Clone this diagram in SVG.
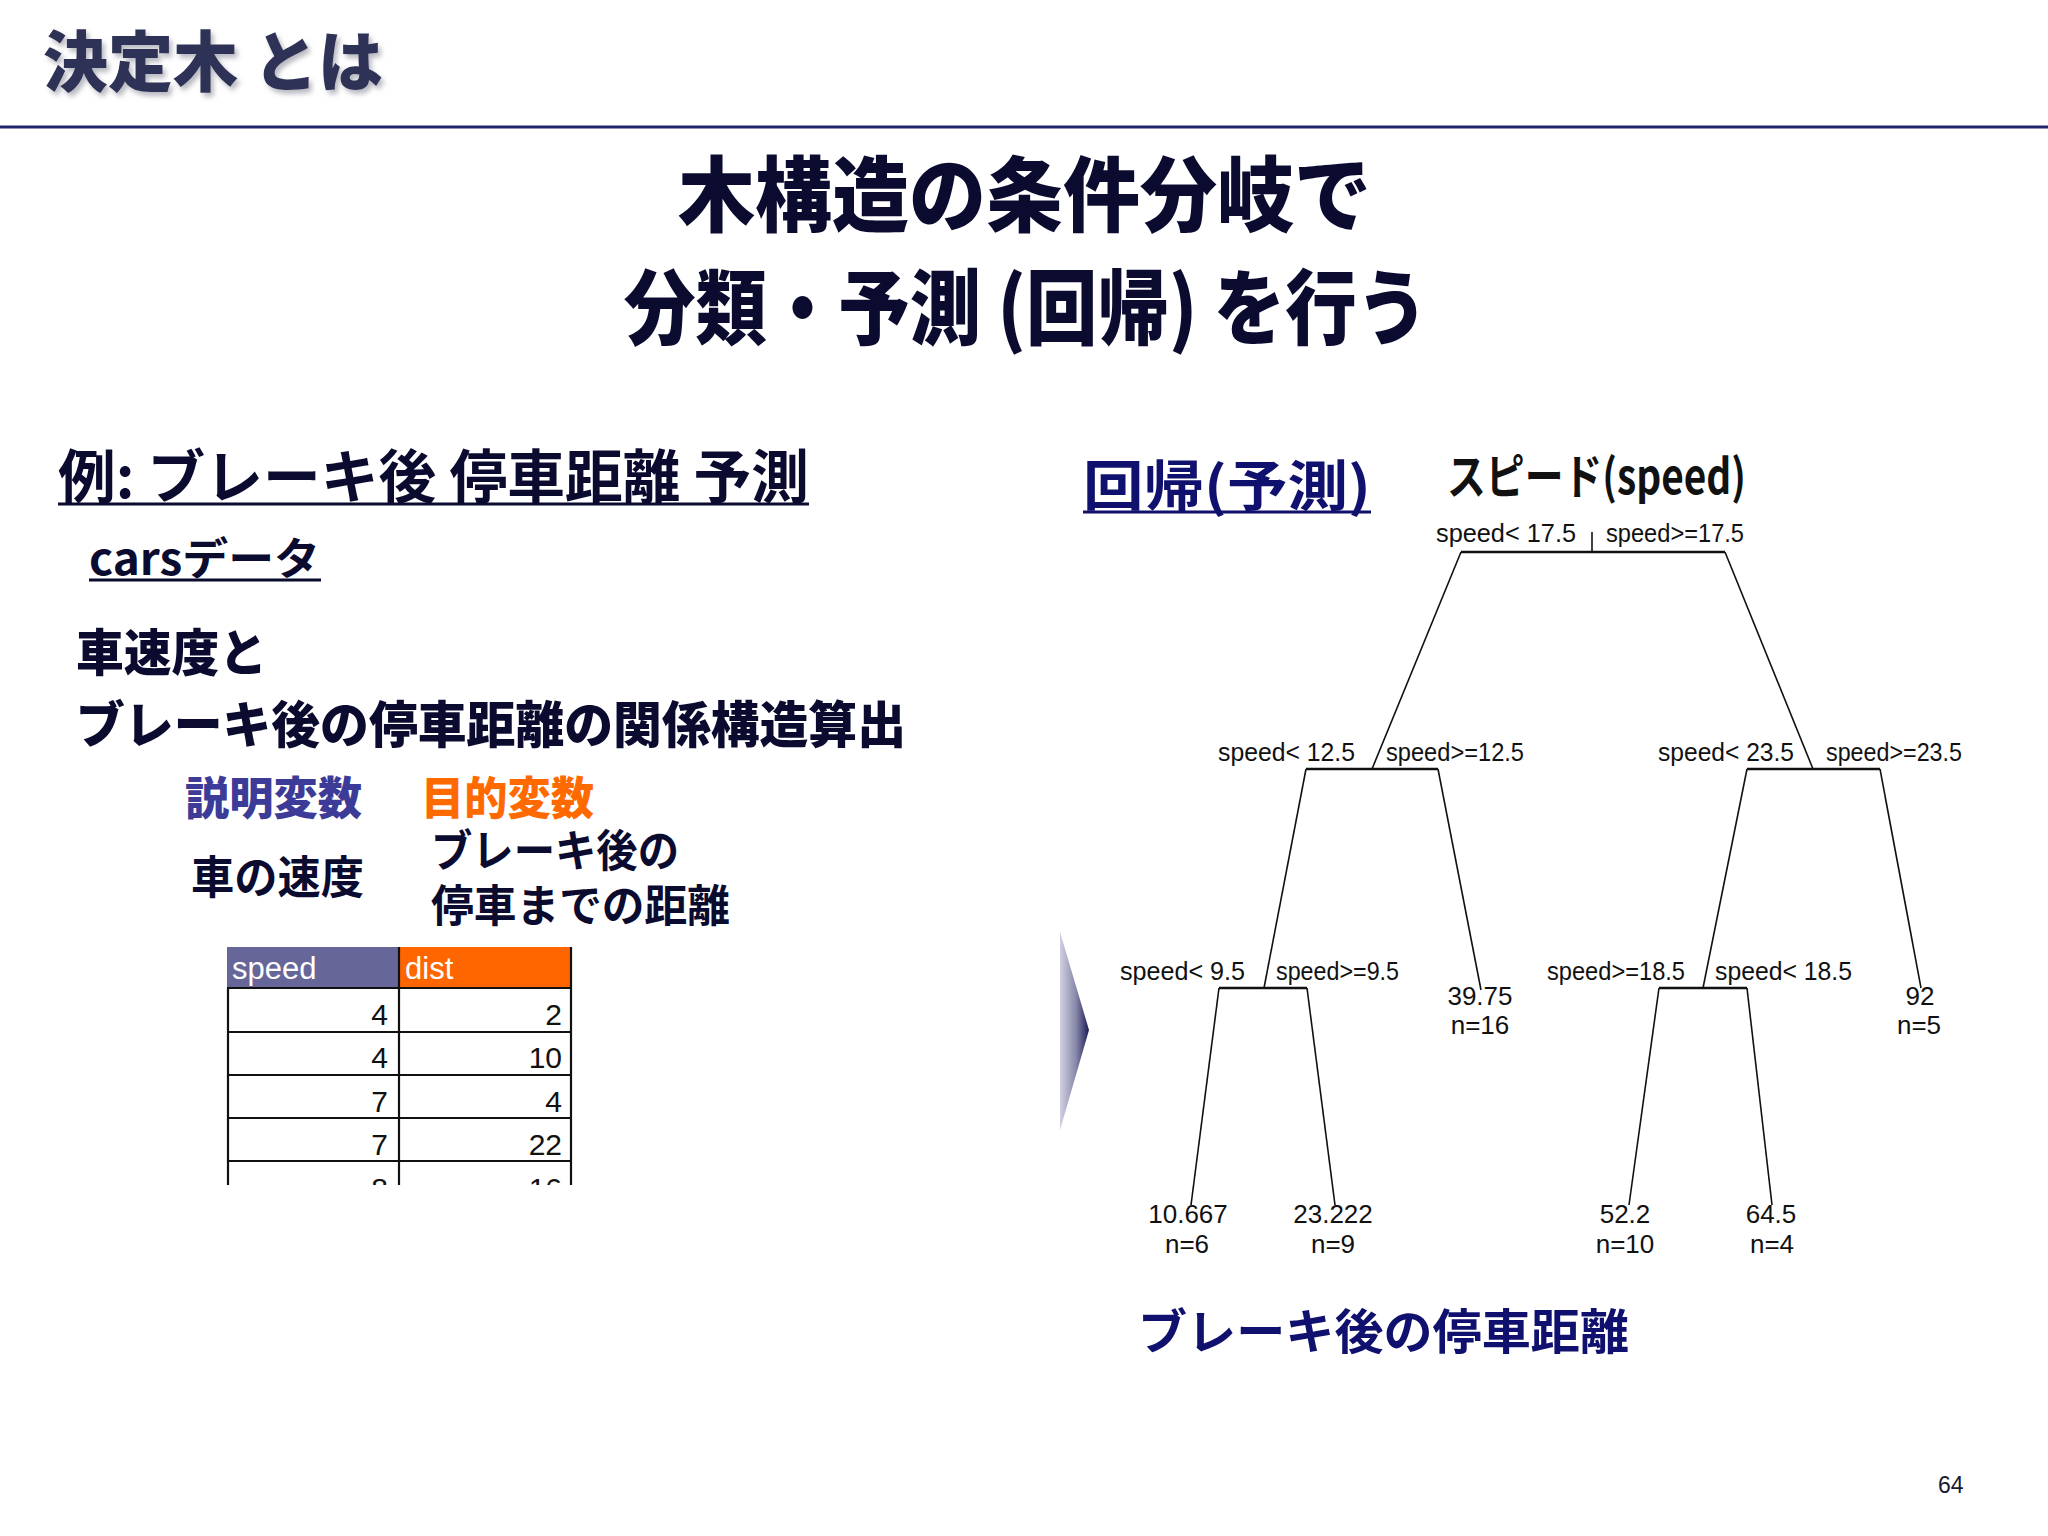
<svg xmlns="http://www.w3.org/2000/svg" width="2048" height="1536" viewBox="0 0 2048 1536">
<defs>
<style>
.jp{font-family:"Noto Sans CJK JP","Noto Sans CJK SC",sans-serif}
.heavy{font-weight:900}
.bold{font-weight:700}
.dark{fill:#0b0b30}
.navy{fill:#10106e}
.lbl{font-family:"Liberation Sans",Arial,sans-serif;font-size:26px;fill:#111}
.mid{text-anchor:middle}
.edge{stroke:#111;stroke-width:1.6;fill:none}
.bar{stroke:#111;stroke-width:2.4;fill:none}
.num{font-family:"Liberation Sans",Arial,sans-serif;font-size:30px;fill:#111;text-anchor:end}
.grid{stroke:#111;stroke-width:2.2}
.ul{stroke-width:3}
</style>
<filter id="shadow" x="-10%" y="-20%" width="130%" height="160%">
<feDropShadow dx="3" dy="4" stdDeviation="2.5" flood-color="#8a8a9a" flood-opacity="0.6"/>
</filter>
<linearGradient id="tri" x1="0" y1="0" x2="1" y2="0">
<stop offset="0" stop-color="#d0d0e2"/>
<stop offset="0.55" stop-color="#8888aa"/>
<stop offset="1" stop-color="#1c1c58"/>
</linearGradient>
<clipPath id="tblclip"><rect x="220" y="940" width="360" height="245"/></clipPath>
</defs>
<rect width="2048" height="1536" fill="#ffffff"/>

<g id="title">
<text class="jp heavy" x="43" y="86" font-size="66" fill="#2e3257" textLength="340" lengthAdjust="spacingAndGlyphs" filter="url(#shadow)">決定木 とは</text>
<line x1="0" y1="127" x2="2048" y2="127" stroke="#23236e" stroke-width="3"/>
</g>

<g id="heading">
<text class="jp heavy dark" x="678" y="225" font-size="82" textLength="693" lengthAdjust="spacingAndGlyphs">木構造の条件分岐で</text>
<text class="jp heavy dark" x="624" y="338" font-size="82" textLength="804" lengthAdjust="spacingAndGlyphs">分類・予測 (回帰) を行う</text>
</g>

<g id="example">
<text class="jp bold dark" x="58" y="498" font-size="58" textLength="751" lengthAdjust="spacingAndGlyphs">例: ブレーキ後 停車距離 予測</text>
<line class="ul" x1="58" y1="504" x2="809" y2="504" stroke="#0b0b30"/>
<text class="jp bold dark" x="89" y="575" font-size="44" textLength="231" lengthAdjust="spacingAndGlyphs">carsデータ</text>
<line class="ul" x1="89" y1="580" x2="321" y2="580" stroke="#0b0b30"/>
<text class="jp heavy dark" x="76" y="671" font-size="50" textLength="191" lengthAdjust="spacingAndGlyphs">車速度と</text>
<text class="jp heavy dark" x="76" y="743" font-size="50" textLength="830" lengthAdjust="spacingAndGlyphs">ブレーキ後の停車距離の関係構造算出</text>
<text class="jp heavy" x="185" y="815" font-size="45" fill="#3c3c98" textLength="177" lengthAdjust="spacingAndGlyphs">説明変数</text>
<text class="jp heavy" x="421" y="815" font-size="45" fill="#ff6a00" textLength="173" lengthAdjust="spacingAndGlyphs">目的変数</text>
<text class="jp bold dark" x="191" y="894" font-size="45" textLength="173" lengthAdjust="spacingAndGlyphs">車の速度</text>
<text class="jp bold dark" x="431" y="867" font-size="44" textLength="248" lengthAdjust="spacingAndGlyphs">ブレーキ後の</text>
<text class="jp bold dark" x="431" y="922" font-size="44" textLength="299" lengthAdjust="spacingAndGlyphs">停車までの距離</text>
</g>

<g id="table" clip-path="url(#tblclip)">
<rect x="227" y="947" width="172" height="41" fill="#666699"/>
<rect x="399" y="947" width="172" height="41" fill="#ff6600"/>
<text x="232" y="979" font-family="Liberation Sans,Arial,sans-serif" font-size="31" fill="#ffffff">speed</text>
<text x="405" y="979" font-family="Liberation Sans,Arial,sans-serif" font-size="31" fill="#ffffff">dist</text>
<line class="grid" x1="227" y1="988" x2="571" y2="988"/>
<line class="grid" x1="227" y1="1032" x2="571" y2="1032"/>
<line class="grid" x1="227" y1="1075" x2="571" y2="1075"/>
<line class="grid" x1="227" y1="1118" x2="571" y2="1118"/>
<line class="grid" x1="227" y1="1161" x2="571" y2="1161"/>
<line class="grid" x1="228" y1="988" x2="228" y2="1190"/>
<line class="grid" x1="399" y1="947" x2="399" y2="1190"/>
<line class="grid" x1="571" y1="947" x2="571" y2="1190"/>
<text class="num" x="388" y="1025">4</text><text class="num" x="562" y="1025">2</text>
<text class="num" x="388" y="1068">4</text><text class="num" x="562" y="1068">10</text>
<text class="num" x="388" y="1112">7</text><text class="num" x="562" y="1112">4</text>
<text class="num" x="388" y="1155">7</text><text class="num" x="562" y="1155">22</text>
<text class="num" x="388" y="1199">8</text><text class="num" x="562" y="1199">16</text>
</g>

<g id="arrow">
<polygon points="1060,932 1089,1030 1060,1130" fill="url(#tri)"/>
</g>

<g id="right-header">
<text class="jp bold navy" x="1083" y="506" font-size="54" textLength="288" lengthAdjust="spacingAndGlyphs">回帰(予測)</text>
<line class="ul" x1="1083" y1="512" x2="1371" y2="512" stroke="#10106e"/>
<text class="jp bold" x="1447" y="494" font-size="48" fill="#111" textLength="299" lengthAdjust="spacingAndGlyphs">スピード(speed)</text>
</g>

<g id="connectors">
<line class="edge" x1="1592" y1="532" x2="1592" y2="552"/>
<line class="edge" x1="1461" y1="552" x2="1372" y2="769"/>
<line class="edge" x1="1725" y1="552" x2="1813" y2="769"/>
<line class="edge" x1="1306" y1="769" x2="1264" y2="988"/>
<line class="edge" x1="1438" y1="769" x2="1481" y2="990"/>
<line class="edge" x1="1747" y1="769" x2="1703" y2="988"/>
<line class="edge" x1="1880" y1="769" x2="1921" y2="988"/>
<line class="edge" x1="1219" y1="988" x2="1191" y2="1205"/>
<line class="edge" x1="1307" y1="988" x2="1335" y2="1205"/>
<line class="edge" x1="1659" y1="988" x2="1629" y2="1205"/>
<line class="edge" x1="1747" y1="988" x2="1772" y2="1205"/>
</g>

<g id="node-root">
<line class="bar" x1="1461" y1="552" x2="1725" y2="552"/>
<text class="lbl" x="1436" y="542" textLength="140" lengthAdjust="spacingAndGlyphs">speed&lt; 17.5</text>
<text class="lbl" x="1606" y="542" textLength="138" lengthAdjust="spacingAndGlyphs">speed&gt;=17.5</text>
</g>
<g id="node-l2-left">
<line class="bar" x1="1306" y1="769" x2="1438" y2="769"/>
<text class="lbl" x="1218" y="761" textLength="137" lengthAdjust="spacingAndGlyphs">speed&lt; 12.5</text>
<text class="lbl" x="1386" y="761" textLength="138" lengthAdjust="spacingAndGlyphs">speed&gt;=12.5</text>
</g>
<g id="node-l2-right">
<line class="bar" x1="1747" y1="769" x2="1880" y2="769"/>
<text class="lbl" x="1658" y="761" textLength="136" lengthAdjust="spacingAndGlyphs">speed&lt; 23.5</text>
<text class="lbl" x="1826" y="761" textLength="136" lengthAdjust="spacingAndGlyphs">speed&gt;=23.5</text>
</g>
<g id="node-l3-left">
<line class="bar" x1="1219" y1="988" x2="1307" y2="988"/>
<text class="lbl" x="1120" y="980" textLength="125" lengthAdjust="spacingAndGlyphs">speed&lt; 9.5</text>
<text class="lbl" x="1276" y="980" textLength="123" lengthAdjust="spacingAndGlyphs">speed&gt;=9.5</text>
</g>
<g id="node-l3-right">
<line class="bar" x1="1659" y1="988" x2="1747" y2="988"/>
<text class="lbl" x="1547" y="980" textLength="138" lengthAdjust="spacingAndGlyphs">speed&gt;=18.5</text>
<text class="lbl" x="1715" y="980" textLength="137" lengthAdjust="spacingAndGlyphs">speed&lt; 18.5</text>
</g>
<g id="leaf-39">
<text class="lbl mid" x="1480" y="1005">39.75</text>
<text class="lbl mid" x="1480" y="1034">n=16</text>
</g>
<g id="leaf-92">
<text class="lbl mid" x="1920" y="1005">92</text>
<text class="lbl mid" x="1919" y="1034">n=5</text>
</g>
<g id="leaf-10">
<text class="lbl mid" x="1188" y="1223">10.667</text>
<text class="lbl mid" x="1187" y="1253">n=6</text>
</g>
<g id="leaf-23">
<text class="lbl mid" x="1333" y="1223">23.222</text>
<text class="lbl mid" x="1333" y="1253">n=9</text>
</g>
<g id="leaf-52">
<text class="lbl mid" x="1625" y="1223">52.2</text>
<text class="lbl mid" x="1625" y="1253">n=10</text>
</g>
<g id="leaf-64">
<text class="lbl mid" x="1771" y="1223">64.5</text>
<text class="lbl mid" x="1772" y="1253">n=4</text>
</g>

<g id="caption">
<text class="jp bold navy" x="1138" y="1349" font-size="48" textLength="491" lengthAdjust="spacingAndGlyphs">ブレーキ後の停車距離</text>
</g>

<text x="1938" y="1493" font-family="Liberation Sans,Arial,sans-serif" font-size="23" fill="#1a1a33">64</text>
</svg>
